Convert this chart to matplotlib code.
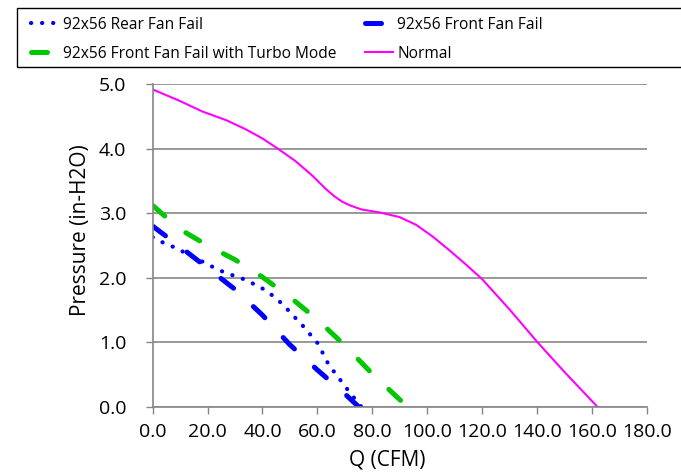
import matplotlib
matplotlib.use("Agg")
import matplotlib.pyplot as plt
from matplotlib.patches import Rectangle
from matplotlib.ticker import FormatStrFormatter

plt.rcParams['font.family'] = ['Open Sans', 'DejaVu Sans']

# fan curves, Q (CFM) vs static pressure (in-H2O)
rear_q = [0, 4, 8, 20, 24, 29, 33, 37, 41, 45, 48, 51, 54, 57, 60, 62, 64, 67, 72, 76]
rear_p = [2.63, 2.54, 2.47, 2.21, 2.12, 2.04, 1.98, 1.9, 1.81, 1.68, 1.56, 1.42, 1.29, 1.14,
          0.99, 0.83, 0.66, 0.49, 0.21, 0.0]

front_q = [0, 10, 20, 30, 40, 50, 60, 70, 75]
front_p = [2.8, 2.48, 2.15, 1.82, 1.42, 0.96, 0.57, 0.2, 0.0]

turbo_q = [0, 10, 20, 30, 40, 50, 60, 70, 80, 90, 93]
turbo_p = [3.12, 2.75, 2.5, 2.28, 2.01, 1.7, 1.35, 0.95, 0.51, 0.11, 0.0]

normal_q = [0, 10, 18, 27, 34, 40, 46, 52, 58, 63, 66, 69, 72, 76, 83, 90, 96, 102, 108,
            114, 120, 130, 140, 150, 162]
normal_p = [4.92, 4.74, 4.58, 4.44, 4.30, 4.16, 3.99, 3.81, 3.59, 3.38, 3.27, 3.18, 3.12,
            3.06, 3.01, 2.94, 2.82, 2.64, 2.43, 2.21, 1.98, 1.51, 1.01, 0.54, 0.0]

labels = ['92x56 Rear Fan Fail', '92x56 Front Fan Fail',
          '92x56 Front Fan Fail with Turbo Mode', 'Normal']

fig = plt.figure(figsize=(6.81, 4.72), dpi=100)
ax = fig.add_axes([0.2242, 0.1384, 0.7254, 0.683])

l1, = ax.plot(rear_q, rear_p, color='#0000FF', lw=3.0, ls=(0, (0.05, 2.6)),
              dash_capstyle='round', label=labels[0])
l2, = ax.plot(front_q, front_p, color='#0000FF', lw=3.6, ls=(0, (3.2, 5.4)),
              dash_capstyle='round', label=labels[1])
l3, = ax.plot(turbo_q, turbo_p, color='#00C800', lw=3.6, ls=(0, (3.2, 5.4)),
              dash_capstyle='round', label=labels[2])
l4, = ax.plot(normal_q, normal_p, color='#FF00FF', lw=1.5, label=labels[3])

ax.set_xlim(0, 180)
ax.set_ylim(0, 5)
ax.set_xticks(range(0, 181, 20))
ax.set_yticks([0, 1, 2, 3, 4, 5])
ax.xaxis.set_major_formatter(FormatStrFormatter('%.1f'))
ax.yaxis.set_major_formatter(FormatStrFormatter('%.1f'))
ax.tick_params(labelsize=14, color='#868686', length=5, width=1)
ax.tick_params(axis='x', pad=7)
ax.tick_params(axis='y', pad=14)
ax.yaxis.grid(True, color='#868686', lw=1.2)
ax.set_axisbelow(True)
for s in ['top', 'right']:
    ax.spines[s].set_visible(False)
for s in ['left', 'bottom']:
    ax.spines[s].set_color('#868686')
    ax.spines[s].set_linewidth(1.2)

ax.set_xlabel('Q (CFM)', fontsize=15)
ax.set_ylabel('Pressure (in-H2O)', fontsize=15)
ax.xaxis.set_label_coords(0.475, -0.133)
ax.yaxis.set_label_coords(-0.125, 0.548)

# legend box runs off the right edge
fig.add_artist(Rectangle((17 / 681, 1 - 67 / 472), 700 / 681, 59 / 472,
                         transform=fig.transFigure, fill=False,
                         edgecolor='black', lw=1.0, clip_on=False))
leg = fig.legend([l1, l3, l2, l4], [labels[0], labels[2], labels[1], labels[3]],
                 ncol=2, loc='upper left', bbox_to_anchor=(26 / 681, 1 - 12 / 472),
                 borderaxespad=0, fontsize=11.2, frameon=False,
                 handlelength=1.8, handletextpad=0.3, columnspacing=1.8,
                 borderpad=0.3, labelspacing=0.85)

fig.savefig('out.png', dpi=100)
